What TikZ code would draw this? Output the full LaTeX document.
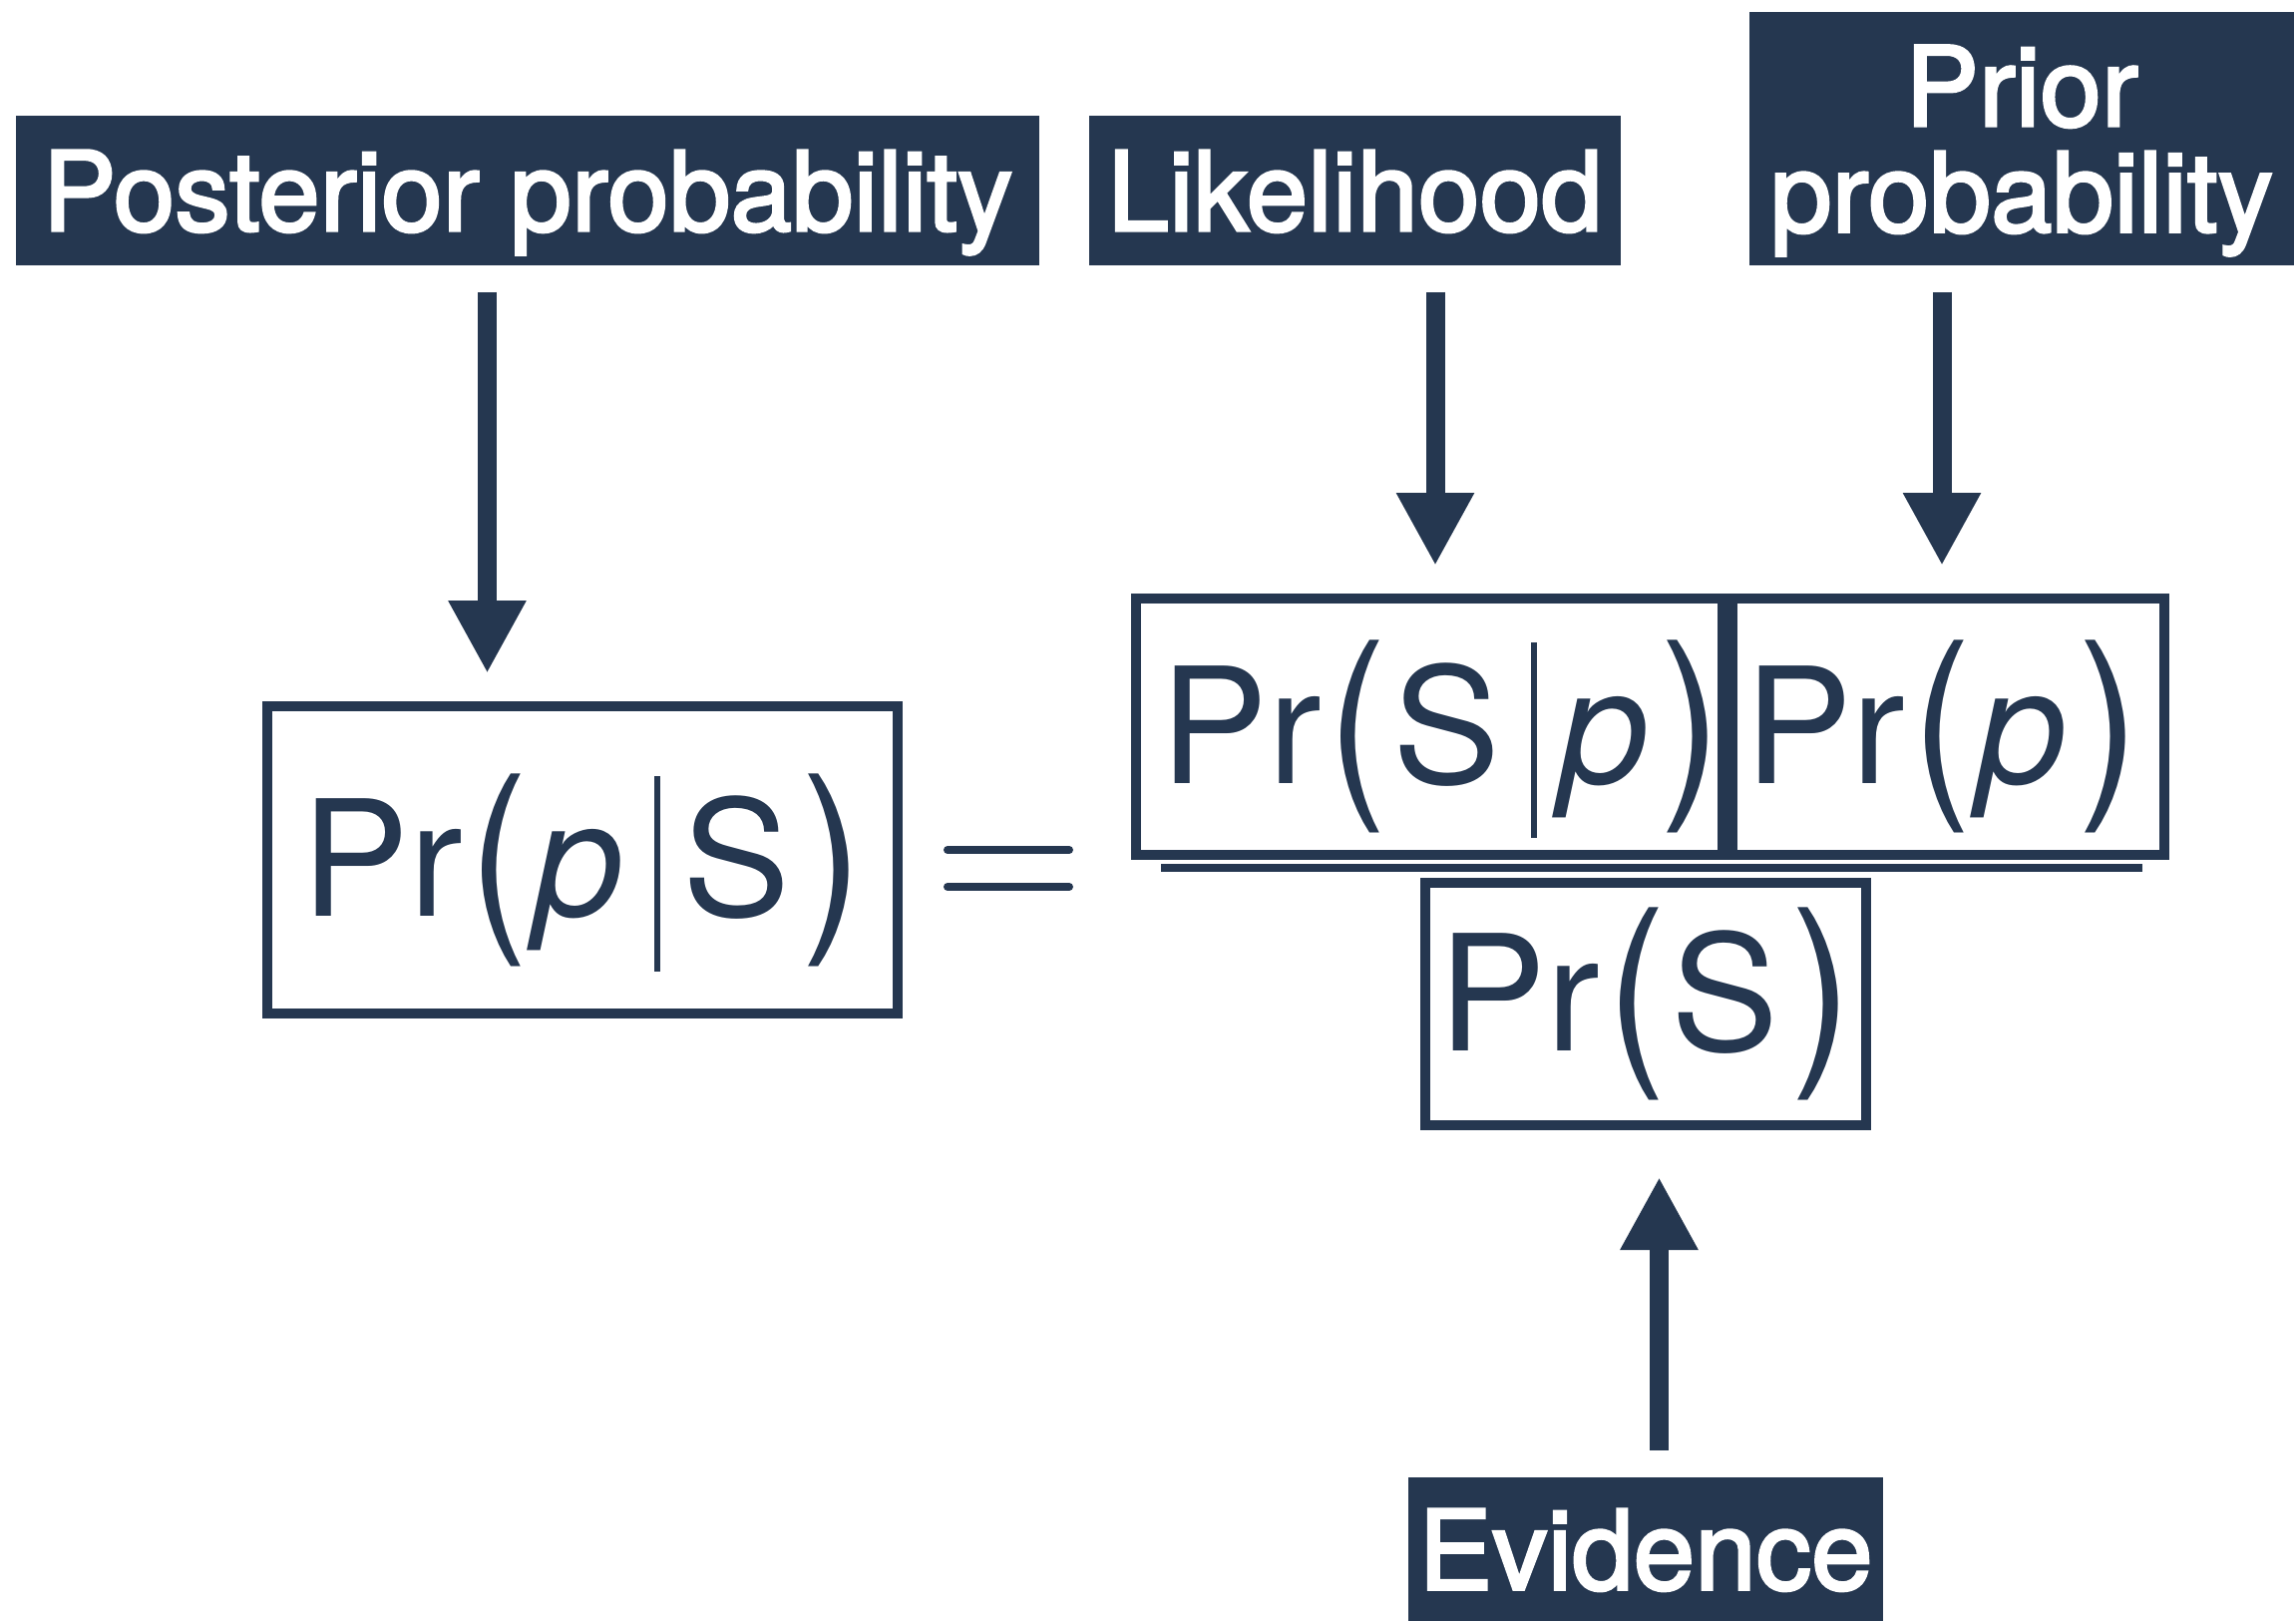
\documentclass[tikz,border=0pt]{standalone}
\usepackage{graphicx}
\usepackage{fontspec}
\setmainfont{TeX Gyre Heros}
\newfontfamily\labelfont{TeX Gyre Heros}[FakeBold=2.5]
\usetikzlibrary{arrows.meta,positioning,calc}
\definecolor{BayesNavy}{RGB}{37,55,80}
\newcommand{\lpar}{\hspace{0.04em}\raisebox{-0.04em}{\scalebox{1.1}[1.27]{(}}\hspace{0.035em}}
\newcommand{\rpar}{\hspace{0.07em}\raisebox{-0.04em}{\scalebox{1.15}[1.27]{)}}}
\newcommand{\given}{\hspace{0.19em}\rule[-0.34em]{0.06cm}{1.21em}\hspace{0.14em}}
\tikzset{
  termlabel/.style={fill=BayesNavy, text=white, align=center, inner sep=0pt,
    font=\labelfont\fontsize{31.5}{30.2}\selectfont, text depth=0pt},
  termbox/.style={draw=BayesNavy, line width=1mm, inner sep=0pt, text=BayesNavy,
    font=\fontsize{46}{50}\selectfont, text height=41.4pt, text depth=9.2pt},
  bigarrow/.style={-{Triangle[width=7.3mm,length=7.3mm]}, line width=1.9mm,
    draw=BayesNavy, shorten <=2.6mm, shorten >=2.8mm},
  eqbar/.style={line width=0.8mm, line cap=round, draw=BayesNavy},
  fracbar/.style={line width=0.8mm, draw=BayesNavy}
}

\begin{document}
\begin{tikzpicture}
      \useasboundingbox (0,0) rectangle (23.02,-16.25);
      \node[termlabel, minimum width=10.26cm, minimum height=1.50cm] (postlbl) at (5.29,-1.91) {Posterior probability};
      \node[termlabel, minimum width=5.33cm, minimum height=1.50cm] (likelbl) at (13.585,-1.91) {Likelihood};
      \node[termlabel, minimum width=5.46cm, minimum height=2.54cm] (priorlbl) at (20.27,-1.39) {Prior\\probability};
      \node[termlabel, minimum width=4.76cm, minimum height=1.45cm] (evidlbl) at (16.50,-15.53) {Evidence};
      \node[termbox, minimum width=6.32cm, minimum height=3.08cm] (postfml) at (5.84,-8.62) {Pr\lpar\textit{p\/}\given S\rpar};
      \node[termbox, minimum width=5.86cm, minimum height=2.57cm] (likefml) at (14.33,-7.285) {\hspace{0.15em}Pr\lpar S\given\textit{p\/}\rpar\hspace{-0.15em}};
      \node[termbox, minimum width=4.33cm, minimum height=2.57cm, right=0pt of likefml] (priorfml) {\hspace{-0.075em}Pr\lpar\textit{p\/}\rpar\hspace{0.075em}};
      \node[termbox, minimum width=4.42cm, minimum height=2.43cm, text height=35.9pt] (evidfml) at (16.50,-10.065) {Pr\lpar S\rpar};
      \draw[fracbar] ($(likefml.south west)+(0.30,-0.08)$) -- ($(priorfml.south east)+(-0.27,-0.08)$);
      \draw[eqbar] (9.50,-8.52) -- (10.72,-8.52);
      \draw[eqbar] (9.50,-8.89) -- (10.72,-8.89);
      \coordinate (postx) at (4.885,0);
      \coordinate (likex) at (14.39,0);
      \coordinate (priorx) at (19.47,0);
      \coordinate (evidx) at (16.635,0);
      \draw[bigarrow] (postlbl.south -| postx) -- (postfml.north -| postx);
      \draw[bigarrow] (likelbl.south -| likex) -- (likefml.north -| likex);
      \draw[bigarrow] (priorlbl.south -| priorx) -- (priorfml.north -| priorx);
      \draw[bigarrow, shorten >=4.7mm] (evidlbl.north -| evidx) -- (evidfml.south -| evidx);
    \end{tikzpicture}
\end{document}
